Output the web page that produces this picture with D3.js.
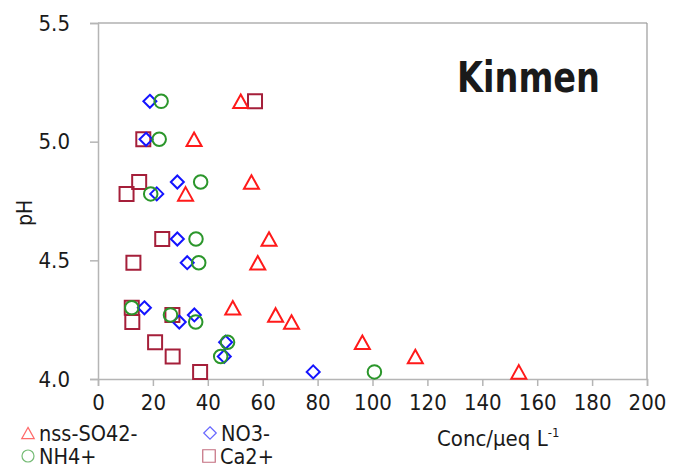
<!DOCTYPE html>
<html>
<head>
<meta charset="utf-8">
<script src="https://cdn.jsdelivr.net/npm/d3@7"></script>
<style>
  html, body { margin: 0; padding: 0; background: #fff; }
  svg { display: block; }
  text { font-family: "DejaVu Sans Condensed", "Liberation Sans", sans-serif; fill: #1a1a1a; }
</style>
</head>
<body>
<svg id="chart" width="674" height="468"></svg>
<script>
// pH of each sample
const pH = [5.17, 5.01, 4.83, 4.78, 4.59, 4.49, 4.30, 4.27, 4.24, 4.155, 4.095, 4.03];
// concentrations (µeq/L)
const nssSO4 = [52.0, 35.0, 55.9, 31.9, 62.3, 58.2, 49.1, 64.7, 70.5, 96.3, 115.6, 153.3];
const NO3 = [18.9, 17.5, 28.9, 21.4, 28.9, 32.5, 16.9, 35.1, 29.6, 46.5, 46.0, 78.4];
const NH4 = [23.0, 22.3, 37.4, 19.2, 35.7, 36.7, 12.3, 26.4, 35.6, 47.2, 44.7, 100.7];
const Ca = [57.2, 16.5, 15.0, 10.4, 23.4, 12.9, 12.3, 27.1, 12.5, 20.8, 27.2, 37.2];

const xTicks = [0, 20, 40, 60, 80, 100, 120, 140, 160, 180, 200];
const yTicks = [4.0, 4.5, 5.0, 5.5];
const seriesNames = ["nss-SO42-", "NO3-", "NH4+", "Ca2+"];

const svg = d3.select("#chart");
const x = d3.scaleLinear().domain([0, 200]).range([98, 647]);
const y = d3.scaleLinear().domain([4.0, 5.5]).range([379, 23]);

// frame (top/right)
svg.append("line").attr("x1", x(0)).attr("x2", x(200)).attr("y1", y(5.5)).attr("y2", y(5.5))
  .attr("stroke", "#8a8a8a").attr("stroke-width", 1.2);
svg.append("line").attr("x1", x(200)).attr("x2", x(200)).attr("y1", y(5.5)).attr("y2", y(4.0))
  .attr("stroke", "#9a9a9a").attr("stroke-width", 1.2);

// axes
const xAxis = svg.append("g").attr("transform", `translate(0,${y(4.0)})`)
  .call(d3.axisBottom(x).tickValues(xTicks).tickSize(7).tickPadding(8).tickFormat(d3.format("d")));
const yAxis = svg.append("g").attr("transform", `translate(${x(0)},0)`)
  .call(d3.axisLeft(y).tickValues(yTicks).tickSize(8).tickPadding(20).tickFormat(d3.format(".1f")));
[xAxis, yAxis].forEach(g => {
  g.select(".domain").attr("stroke", "#b5b5b5").attr("stroke-width", 1.5);
  g.selectAll(".tick line").attr("stroke", "#b5b5b5").attr("stroke-width", 1.5);
  g.selectAll(".tick text").attr("font-size", 22).attr("fill", "#1a1a1a")
    .style("font-family", '"DejaVu Sans Condensed", "Liberation Sans", sans-serif');
});

// axis titles
svg.append("text").attr("transform", `translate(32,213) rotate(-90)`)
  .attr("text-anchor", "middle").attr("font-size", 21).text("pH");
const xl = svg.append("text").attr("x", 437).attr("y", 446).attr("font-size", 22);
xl.append("tspan").text("Conc/μeq L");
xl.append("tspan").attr("dy", -9).attr("font-size", 13).text("-1");

// chart title
svg.append("text").attr("x", 457).attr("y", 92).attr("font-size", 42).attr("font-weight", "bold")
  .attr("textLength", 143).attr("lengthAdjust", "spacingAndGlyphs")
  .style("font-family", '"DejaVu Sans", sans-serif').attr("fill", "#000").text("Kinmen");

// marker shapes
const shapes = {
  tri: s => `M0,${-0.5 * s * 0.9}L${s / 2},${0.5 * s * 0.9}L${-s / 2},${0.5 * s * 0.9}Z`,
  dia: s => `M0,${-s / 2}L${s / 2},0L0,${s / 2}L${-s / 2},0Z`,
  sq: s => `M${-s / 2},${-s / 2}H${s / 2}V${s / 2}H${-s / 2}Z`
};
const colors = ["#ff1a1a", "#1414ff", "#2b962b", "#a51f3a"];

function drawSeries(vals, kind, color, size) {
  const g = svg.append("g");
  const data = vals.map((v, i) => ({ v, p: pH[i] }));
  if (kind === "circ") {
    g.selectAll("circle").data(data).join("circle")
      .attr("cx", d => x(d.v)).attr("cy", d => y(d.p)).attr("r", size / 2)
      .attr("fill", "none").attr("stroke", color).attr("stroke-width", 2);
  } else {
    g.selectAll("path").data(data).join("path")
      .attr("transform", d => `translate(${x(d.v)},${y(d.p)})`)
      .attr("d", shapes[kind](size))
      .attr("fill", "none").attr("stroke", color).attr("stroke-width", 2)
      .attr("stroke-linejoin", "miter");
  }
}
drawSeries(Ca, "sq", colors[3], 14);
drawSeries(nssSO4, "tri", colors[0], 15);
drawSeries(NO3, "dia", colors[1], 13);
drawSeries(NH4, "circ", colors[2], 13.5);

// legend
const legend = [
  { name: seriesNames[0], kind: "tri", color: colors[0], lx: 28, ly: 433 },
  { name: seriesNames[1], kind: "dia", color: colors[1], lx: 210, ly: 433 },
  { name: seriesNames[2], kind: "circ", color: colors[2], lx: 28, ly: 456 },
  { name: seriesNames[3], kind: "sq", color: colors[3], lx: 209, ly: 456 }
];
legend.forEach(l => {
  const g = svg.append("g").attr("transform", `translate(${l.lx},${l.ly})`);
  if (l.kind === "circ") {
    g.append("circle").attr("r", 6).attr("fill", "none").attr("stroke", l.color)
      .attr("stroke-width", 1.2).attr("opacity", 0.65);
  } else {
    g.append("path").attr("d", shapes[l.kind](12.5)).attr("fill", "none")
      .attr("stroke", l.color).attr("stroke-width", 1.2).attr("opacity", 0.65);
  }
  g.append("text").attr("x", 11).attr("y", 7.5).attr("font-size", 21.5).text(l.name);
});
</script>
</body>
</html>
